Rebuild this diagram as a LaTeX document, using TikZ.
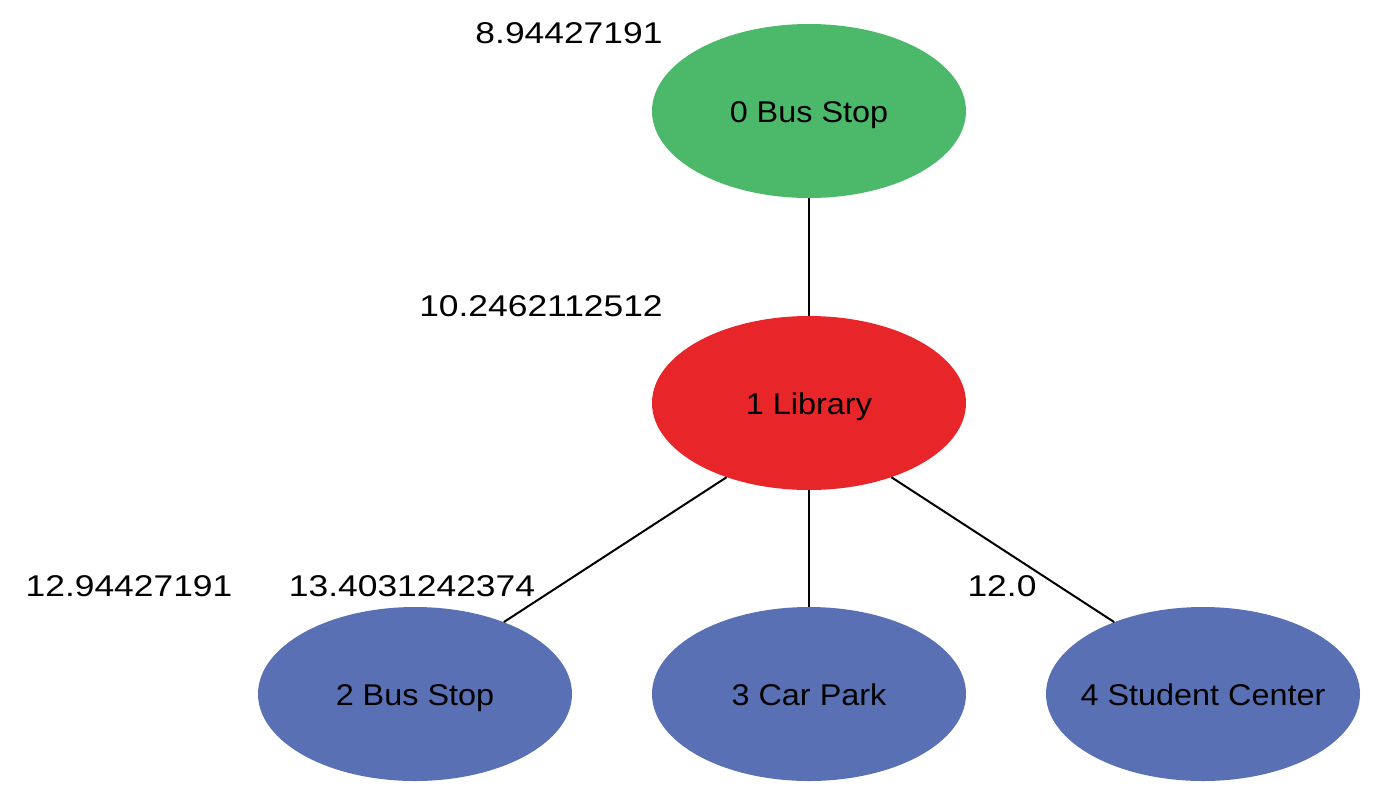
\documentclass[tikz,border=0pt]{standalone}
\usepackage{fontspec}
\setmainfont{Liberation Sans}
\newfontfamily\numfont[FakeStretch=1.18]{Liberation Sans}
\newfontfamily\nodefont[FakeStretch=1.08]{Liberation Sans}
\usetikzlibrary{shapes.geometric}
\definecolor{ngreen}{RGB}{76,185,106}
\definecolor{nred}{RGB}{232,38,41}
\definecolor{nblue}{RGB}{89,112,181}
\newcommand{\zw}[1]{\makebox[0pt][c]{#1}}
\tikzset{
  vert/.style={ellipse, minimum width=314pt, minimum height=174pt, inner sep=0pt,
    text height=22pt, text depth=0pt, font=\nodefont\fontsize{30}{36}\selectfont},
  lbl/.style={font=\numfont\fontsize{30}{36}\selectfont, inner sep=0pt, text height=22pt, text depth=0pt},
  edge/.style={draw=black, line width=2pt}
}
\begin{document}
\begin{tikzpicture}[x=1pt,y=-1pt]
\useasboundingbox (0,0) rectangle (1385,807);
\node[vert, fill=ngreen] (n0) at (809,111) {\zw{0 Bus Stop}};
\node[vert, fill=nred] (n1) at (809,403) {\zw{1 Library}};
\node[vert, fill=nblue] (n2) at (415,694) {\zw{2 Bus Stop}};
\node[vert, fill=nblue] (n3) at (809,694) {\zw{3 Car Park}};
\node[vert, fill=nblue] (n4) at (1203,694) {\zw{4 Student Center}};
\draw[edge] (n1) -- (n0);
\draw[edge] (n1.222) -- (n2.39);
\draw[edge] (n1) -- (n3);
\draw[edge] (n1.318) -- (n4.141);
\node[lbl] (l0) at (569,32) {8.94427191};
\node[lbl] (l1) at (541,305) {10.2462112512};
\node[lbl] (l2) at (129,585) {12.94427191};
\node[lbl] (l3) at (412,585) {13.4031242374};
\node[lbl] (l4) at (1002,585) {12.0};
\end{tikzpicture}
\end{document}
